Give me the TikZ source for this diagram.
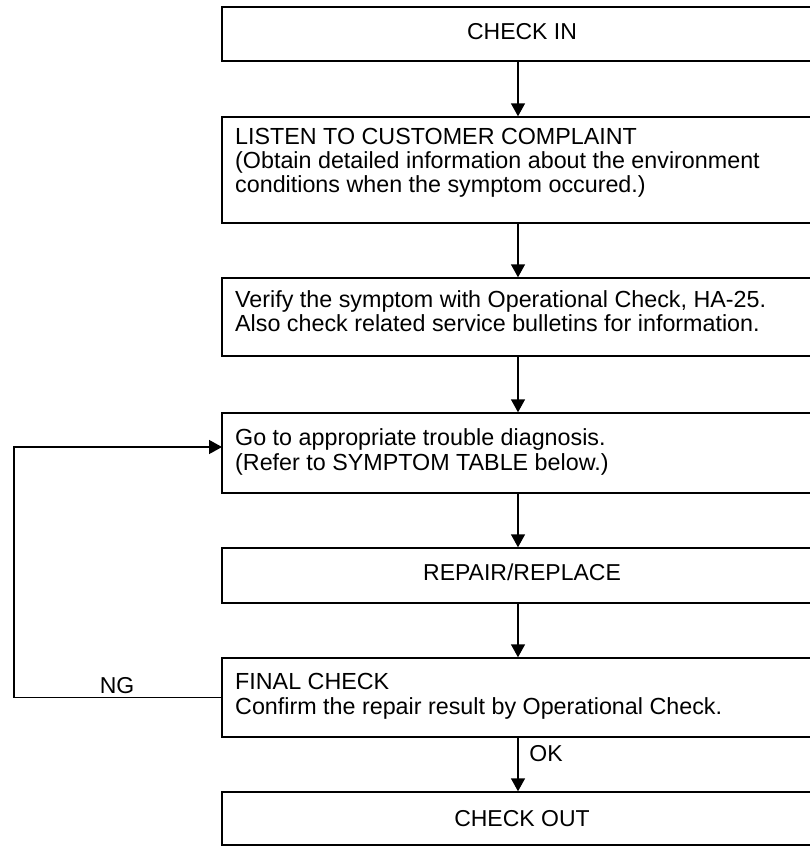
\documentclass[tikz,border=0pt]{standalone}
\usepackage{fontspec}
\setmainfont{Liberation Sans}
\usetikzlibrary{arrows.meta}
\begin{document}
\begin{tikzpicture}[x=1pt,y=-1pt,
  box/.style={draw, line width=1.4pt, minimum width=592pt, inner sep=0pt},
  txt/.style={font=\fontsize{23.3}{25}\selectfont, inner sep=0pt, anchor=base west},
  ctxt/.style={font=\fontsize{23}{25}\selectfont, inner sep=0pt, anchor=base},
  arr/.style={line width=1.4pt, -{Triangle[length=13pt,width=14pt]}}]
\useasboundingbox (0,0) rectangle (810,846);
% boxes
\node[box, minimum height=54pt] (ci) at (518,34) {};
\node[box, minimum height=106pt] (li) at (518,170) {};
\node[box, minimum height=78pt] (ve) at (518,317) {};
\node[box, minimum height=80pt] (go) at (518,453) {};
\node[box, minimum height=55pt] (re) at (518,575.5) {};
\node[box, minimum height=79pt] (fi) at (518,697.5) {};
\node[box, minimum height=53pt] (co) at (518,818.5) {};
% texts
\node[ctxt] (t1) at (522,39) {CHECK IN};
\node[txt] (t2a) at (235,144) {LISTEN TO CUSTOMER COMPLAINT};
\node[txt] (t2b) at (235,168) {(Obtain detailed information about the environment};
\node[txt] (t2c) at (235,192) {conditions when the symptom occured.)};
\node[txt] (t3a) at (235,307) {Verify the symptom with Operational Check, HA-25.};
\node[txt] (t3b) at (235,331) {Also check related service bulletins for information.};
\node[txt] (t4a) at (235,445) {Go to appropriate trouble diagnosis.};
\node[txt] (t4b) at (235,470) {(Refer to SYMPTOM TABLE below.)};
\node[ctxt] (t5) at (522,580) {REPAIR/REPLACE};
\node[txt] (t6a) at (235,689) {FINAL CHECK};
\node[txt] (t6b) at (235,714) {Confirm the repair result by Operational Check.};
\node[ctxt] (t7) at (522,826) {CHECK OUT};
\node[ctxt] (ng) at (117,693) {NG};
\node[ctxt] (ok) at (546,761) {OK};
% connectors
\draw[arr] (ci.south) -- (li.north);
\draw[arr] (li.south) -- (ve.north);
\draw[arr] (ve.south) -- (go.north);
\draw[arr] (go.south) -- (re.north);
\draw[arr] (re.south) -- (fi.north);
\draw[arr] (fi.south) -- (co.north);
\coordinate (loopc) at (14,697.5);
\coordinate (goin) at (222,447);
\draw[arr] (fi.west) -- (loopc) |- (goin);
\end{tikzpicture}
\end{document}
